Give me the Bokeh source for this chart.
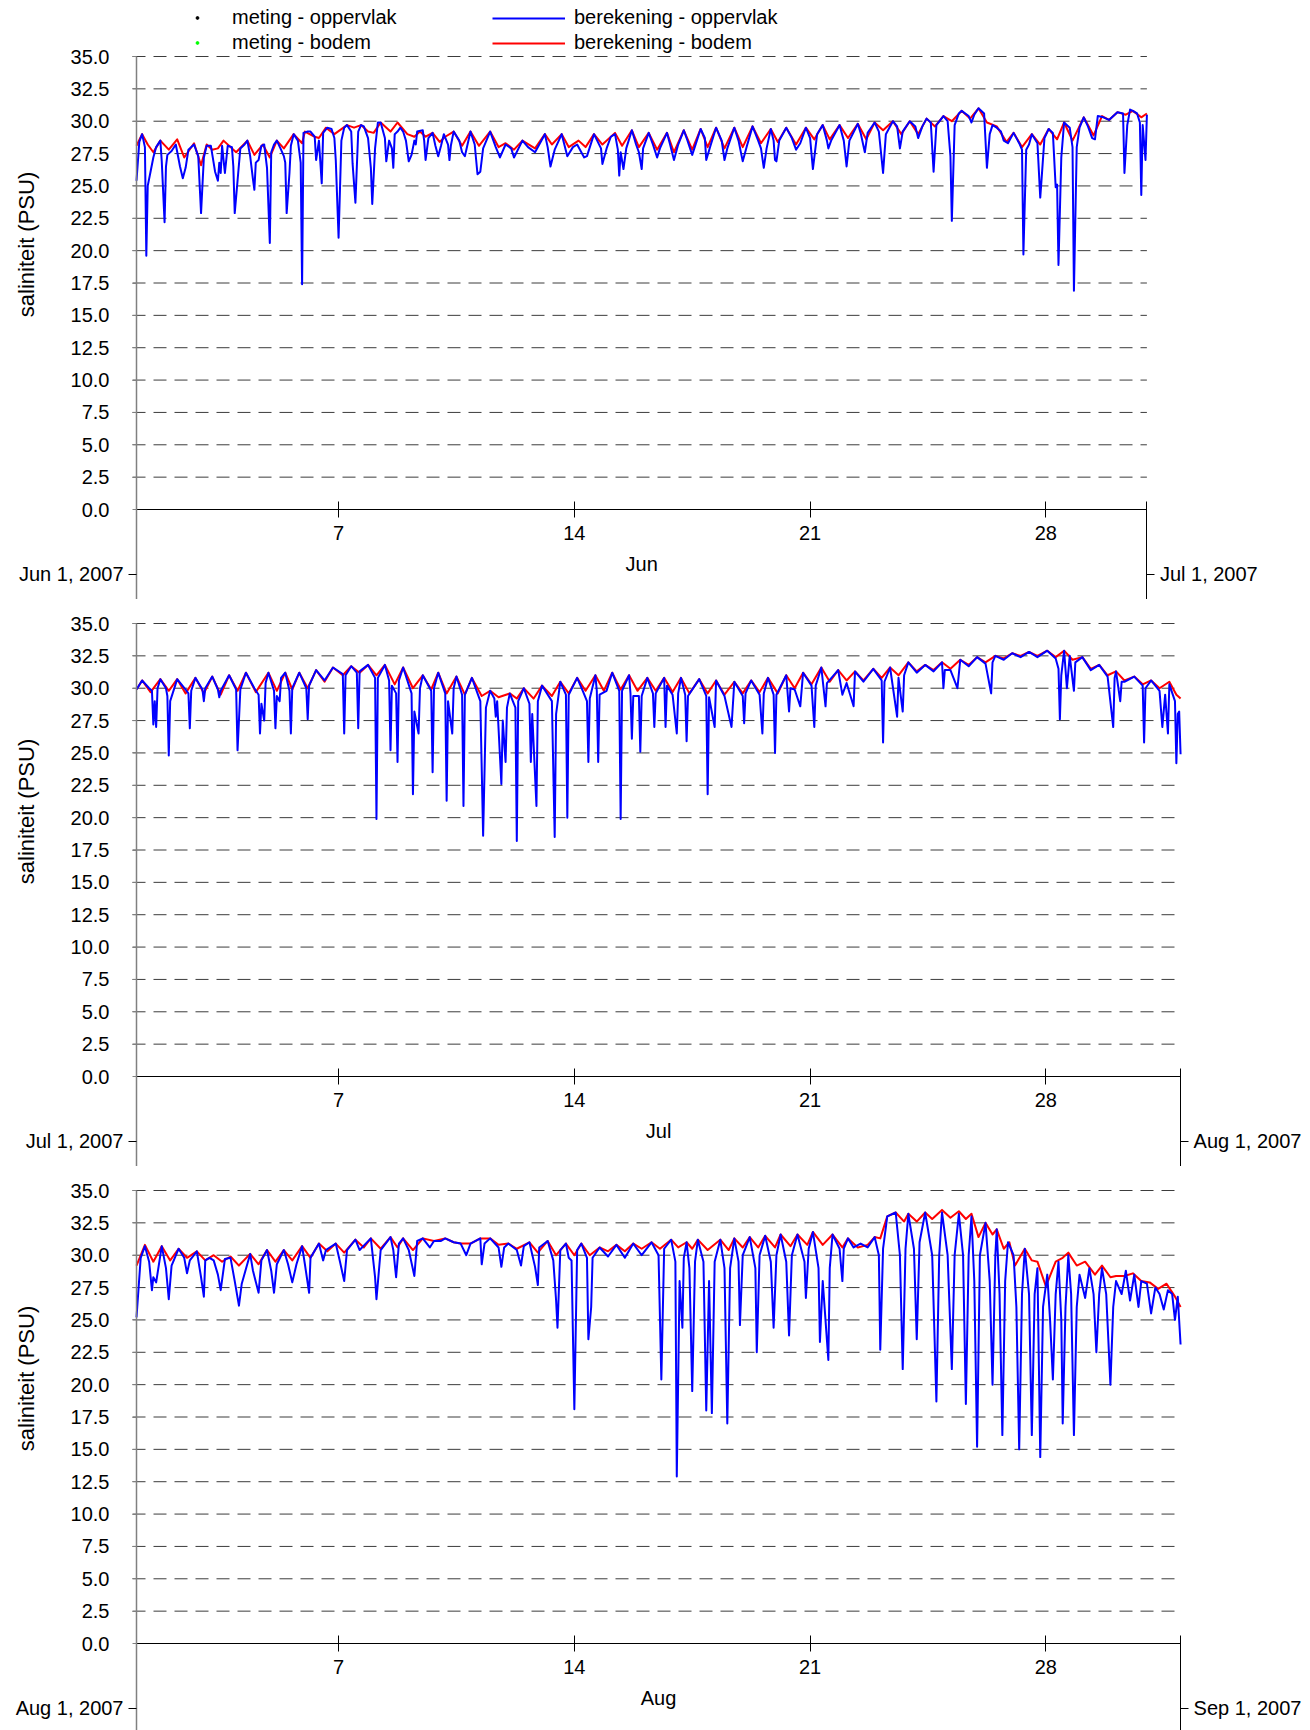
import math
from bokeh.plotting import figure
from bokeh.layouts import column
from bokeh.models import (Range1d, FixedTicker, LinearAxis, Legend, LegendItem,
                          NumeralTickFormatter)
from bokeh.core.properties import value
from bokeh.embed import file_html
from bokeh.resources import INLINE

FONT = "Liberation Sans"
FS = "20px"

# ---------------- data ----------------
months = ["Jun", "Jul", "Aug"]
month_lengths = [30, 31, 31]
start_labels = ["Jun 1, 2007", "Jul 1, 2007", "Aug 1, 2007"]
end_labels = ["Jul 1, 2007", "Aug 1, 2007", "Sep 1, 2007"]
day_ticks = [7, 14, 21, 28]
y_ticks = [0, 2.5, 5, 7.5, 10, 12.5, 15, 17.5, 20, 22.5, 25, 27.5, 30, 32.5, 35]
y_title = "saliniteit (PSU)"
legend_meting = ["meting - oppervlak", "meting - bodem"]
legend_berekening = ["berekening - oppervlak", "berekening - bodem"]

# (hours since start of month, salinity)
jun_oppervlak = [(0,25.4),(2,28.4),(4,29.0),(6,28.0),(7,19.6),(8,25.0),(10,26.1),(12,27.2),(14,28.0),(17,28.5),(18,26.9),(20,22.2),(21,26.5),(22,27.4),(25,27.7),(28,28.2),(31,26.5),(33,25.6),(35,26.4),(37,27.8),(41,28.2),(44,27.3),(46,22.9),(48,27.2),(50,28.1),(53,28.1),(56,26.1),(58,25.4),(59,26.8),(60,26.0),(61,28.1),(63,26.0),(65,28.1),(68,28.0),(69,26.5),(70,22.9),(72,25.4),(74,27.9),(77,28.2),(79,28.5),(81,27.3),(83,25.5),(84,24.7),(85,26.8),(87,27.0),(89,28.1),(91,28.2),(93,26.4),(95,20.6),(96,27.6),(98,28.2),(100,28.5),(103,27.8),(105,27.3),(106,26.8),(107,22.9),(109,26.0),(110,28.1),(112,29.0),(115,28.5),(117,26.8),(118,17.4),(119,29.1),(122,29.2),(124,29.2),(127,28.8),(128,27.0),(130,28.5),(132,25.2),(133,29.1),(136,29.5),(139,29.4),(141,28.7),(142,27.0),(144,21.0),(146,28.5),(148,29.5),(150,29.7),(153,29.2),(154,26.7),(156,23.7),(158,29.2),(160,29.7),(162,29.6),(165,28.7),(167,26.4),(168,23.6),(170,27.9),(172,29.9),(174,29.9),(177,28.7),(178,26.9),(180,28.5),(182,27.9),(183,26.4),(184,29.0),(186,29.2),(188,29.5),(190,29.2),(192,28.5),(194,26.9),(196,27.4),(198,28.5),(199,28.2),(200,29.2),(204,29.3),(205,28.5),(206,27.0),(208,28.7),(211,29.1),(213,28.1),(215,27.3),(217,28.1),(219,29.0),(222,28.2),(223,27.0),(224,28.1),(226,29.2),(230,28.5),(232,27.6),(234,27.3),(238,29.2),(241,28.2),(243,25.9),(245,26.1),(247,27.9),(252,29.2),(256,28.0),(259,27.2),(263,28.2),(267,27.9),(269,27.2),(275,28.5),(279,28.0),(284,27.6),(291,29.0),(293,28.0),(295,26.5),(298,27.8),(303,29.0),(307,27.3),(311,28.0),(314,28.2),(319,27.2),(321,27.3),(326,29.0),(331,27.9),(332,26.7),(335,27.9),(338,28.8),(341,29.0),(343,27.8),(344,25.8),(345,27.6),(347,26.3),(349,27.9),(353,29.3),(356,28.2),(358,27.6),(360,26.3),(361,27.9),(365,29.1),(368,28.2),(371,27.2),(373,27.9),(378,29.1),(380,28.3),(383,27.0),(386,28.2),(390,29.3),(392,28.7),(396,27.4),(402,29.4),(405,28.7),(406,27.0),(409,28.1),(413,29.5),(417,28.5),(419,27.0),(421,27.9),(426,29.5),(429,28.5),(432,26.9),(435,28.1),(439,29.6),(443,28.5),(445,27.9),(447,26.4),(449,27.9),(452,29.4),(454,28.5),(455,27.0),(456,26.9),(458,28.5),(463,29.5),(467,28.7),(470,27.8),(473,28.3),(477,29.5),(480,28.7),(482,26.3),(485,29.0),(489,29.7),(492,28.5),(493,27.9),(495,28.5),(501,29.7),(504,28.5),(506,26.5),(508,28.5),(514,29.8),(516,29.1),(519,27.6),(521,29.1),(526,29.9),(529,29.2),(532,26.0),(534,29.0),(539,30.0),(542,29.6),(544,27.9),(546,29.2),(551,30.0),(555,29.6),(557,28.7),(560,29.6),(563,30.2),(566,29.9),(568,26.1),(570,29.7),(575,30.4),(578,30.0),(580,27.3),(581,22.3),(583,29.7),(586,30.6),(588,30.8),(593,30.4),(595,29.9),(597,30.5),(600,31.0),(604,30.6),(606,26.4),(608,29.0),(610,29.7),(613,29.5),(616,29.2),(618,28.5),(621,28.3),(625,29.1),(629,28.3),(631,27.8),(632,19.7),(634,27.8),(636,28.2),(638,29.0),(642,28.3),(644,24.1),(645,25.6),(647,28.7),(650,29.4),(653,29.1),(655,24.9),(656,25.1),(657,18.9),(659,27.2),(661,29.9),(665,29.5),(667,28.0),(668,16.9),(670,28.0),(672,29.5),(675,30.3),(678,29.6),(681,28.7),(683,28.6),(685,30.4),(689,30.3),(693,30.1),(699,30.7),(703,30.6),(704,26.0),(706,29.7),(708,30.9),(710,30.8),(713,30.6),(715,29.9),(716,24.3),(717,29.7),(719,27.0),(720,30.5)]

jun_bodem = [(0,28.1),(4,29.0),(8,28.2),(12,27.6),(17,28.5),(23,27.8),(29,28.6),(34,27.2),(41,28.3),(46,26.6),(50,28.2),(54,27.8),(58,27.9),(62,28.5),(71,27.6),(79,28.5),(84,27.4),(90,28.2),(95,27.2),(100,28.5),(105,27.9),(112,29.0),(118,28.3),(120,29.2),(127,28.8),(130,28.7),(135,29.5),(141,29.0),(150,29.7),(155,29.5),(160,29.7),(165,29.2),(169,29.1),(174,29.9),(181,29.2),(186,29.9),(193,29.0),(198,28.8),(202,29.2),(206,28.8),(211,29.1),(216,28.4),(220,28.8),(226,29.2),(232,28.1),(238,29.2),(244,28.1),(252,29.2),(258,28.0),(263,28.3),(269,27.8),(275,28.5),(284,27.9),(291,29.0),(296,28.2),(303,29.0),(308,28.0),(315,28.5),(320,28.0),(326,29.0),(332,28.2),(341,29.1),(346,28.1),(353,29.3),(358,28.0),(365,29.1),(371,27.8),(378,29.1),(383,27.6),(390,29.3),(396,27.8),(402,29.4),(407,28.0),(413,29.5),(419,27.9),(426,29.5),(432,28.0),(439,29.6),(445,28.3),(452,29.4),(457,28.4),(463,29.5),(470,28.2),(477,29.5),(483,28.6),(489,29.7),(494,28.6),(501,29.7),(507,28.7),(514,29.8),(520,28.6),(526,29.9),(532,29.3),(539,30.0),(545,29.0),(551,30.0),(557,29.0),(563,30.2),(569,29.6),(575,30.4),(581,30.0),(588,30.8),(594,30.2),(600,31.0),(606,29.9),(613,29.6),(620,28.4),(625,29.1),(631,28.0),(638,29.0),(644,28.2),(650,29.4),(656,28.6),(661,29.9),(667,28.5),(675,30.3),(682,28.9),(688,30.4),(693,30.1),(699,30.7),(705,30.5),(710,30.8),(716,30.3),(720,30.6)]

jul_oppervlak = [(0,29.9),(4,30.6),(9,30.0),(11,29.8),(12,27.2),(13,29.0),(14,27.0),(15,30.0),(17,30.7),(21,30.0),(22,29.4),(23,24.8),(24,29.0),(29,30.7),(35,29.9),(37,29.6),(38,26.9),(39,29.8),(42,30.8),(47,29.9),(48,29.0),(49,30.0),(54,30.9),(58,29.9),(59,29.3),(60,29.8),(66,31.0),(71,29.9),(72,25.2),(73,27.5),(74,29.9),(78,31.2),(84,30.0),(87,29.5),(88,26.5),(89,28.8),(91,27.5),(92,30.4),(94,31.2),(98,29.8),(99,26.9),(100,29.4),(102,29.0),(103,30.8),(106,31.2),(109,29.8),(110,26.5),(111,30.0),(116,31.2),(121,30.0),(122,27.6),(123,30.2),(128,31.4),(134,30.6),(140,31.6),(147,31.1),(148,26.5),(149,31.0),(153,31.7),(157,31.2),(158,26.9),(159,31.3),(165,31.8),(170,30.8),(171,19.9),(172,30.8),(177,31.8),(180,30.6),(181,25.2),(182,30.2),(185,29.6),(186,24.3),(187,30.6),(190,31.6),(196,29.6),(197,21.8),(198,28.2),(201,26.5),(202,30.0),(204,31.0),(210,29.8),(211,23.5),(212,30.0),(215,31.2),(220,29.6),(221,21.3),(222,29.0),(225,26.5),(226,30.0),(228,30.9),(232,29.5),(233,20.9),(234,29.5),(239,30.8),(245,29.0),(247,18.6),(249,28.5),(252,29.8),(255,29.2),(256,27.8),(257,29.0),(260,22.6),(261,27.5),(263,24.3),(264,28.5),(266,29.6),(270,28.5),(271,18.2),(272,29.0),(276,30.0),(280,28.8),(281,24.3),(282,28.0),(285,20.9),(286,29.0),(289,30.2),(296,29.0),(298,18.5),(299,28.0),(302,30.5),(306,29.5),(307,20.0),(308,29.5),(314,30.8),(318,29.8),(321,29.0),(322,24.3),(323,29.2),(327,31.0),(328,29.8),(329,24.3),(330,29.5),(335,29.8),(339,31.2),(344,29.8),(345,19.9),(346,29.8),(351,31.0),(352,29.6),(353,26.1),(354,29.4),(358,29.4),(359,25.1),(360,29.4),(364,30.8),(368,29.6),(369,27.0),(370,29.6),(376,30.8),(377,27.0),(378,30.2),(382,29.5),(385,26.5),(386,29.6),(388,30.8),(391,29.5),(392,25.9),(393,29.4),(401,30.7),(406,29.4),(407,21.8),(408,29.3),(412,27.0),(413,30.6),(419,29.4),(424,27.0),(426,30.5),(432,29.4),(433,27.3),(434,29.6),(438,30.6),(444,29.5),(446,26.5),(447,29.6),(450,30.8),(454,29.5),(455,25.0),(456,29.5),(463,31.0),(465,28.2),(466,30.0),(469,29.9),(473,28.6),(475,31.2),(481,30.2),(483,27.0),(484,30.2),(488,31.6),(491,28.6),(492,30.4),(500,31.4),(503,29.5),(506,30.4),(511,28.6),(512,31.3),(518,30.5),(525,31.5),(531,30.6),(532,25.8),(533,30.5),(537,31.6),(542,27.8),(543,30.8),(546,28.2),(547,31.0),(550,32.0),(556,31.2),(562,31.8),(568,31.3),(574,32.0),(575,30.0),(576,31.4),(580,31.4),(585,30.0),(587,32.2),(593,31.7),(599,32.4),(605,31.9),(609,29.6),(610,32.0),(612,32.5),(618,32.2),(624,32.7),(630,32.4),(636,32.8),(642,32.4),(649,32.9),(655,32.3),(657,31.5),(658,27.6),(659,31.0),(661,32.9),(663,30.0),(665,32.5),(668,29.8),(669,32.0),(674,32.4),(680,31.4),(686,31.8),(692,30.9),(696,27.0),(697,30.8),(698,31.3),(701,29.0),(702,30.5),(704,30.5),(711,30.9),(717,30.2),(718,25.8),(719,30.0),(723,30.6),(729,29.8),(731,27.0),(733,29.5),(735,26.5),(736,30.3),(740,29.0),(741,24.2),(742,28.0),(743,28.2),(744,24.9)]

jul_bodem = [(0,29.9),(4,30.6),(10,29.7),(17,30.7),(23,29.8),(29,30.7),(35,29.6),(42,30.8),(48,29.6),(54,30.9),(60,29.5),(66,31.0),(72,29.8),(78,31.2),(85,29.7),(94,31.2),(100,29.8),(106,31.2),(111,29.9),(116,31.2),(122,30.0),(128,31.4),(134,30.5),(140,31.6),(147,31.0),(153,31.7),(159,31.2),(165,31.8),(171,31.0),(177,31.8),(184,30.3),(190,31.6),(197,30.0),(204,31.0),(210,29.9),(215,31.2),(221,29.6),(228,30.9),(234,29.5),(239,30.8),(246,29.4),(252,29.8),(258,29.3),(266,29.6),(271,29.2),(276,30.0),(283,29.2),(289,30.2),(296,29.4),(302,30.5),(308,29.6),(314,30.8),(320,29.8),(327,31.0),(333,29.8),(339,31.2),(345,29.9),(351,31.0),(357,29.8),(364,30.8),(370,29.8),(376,30.8),(382,29.7),(388,30.8),(394,29.6),(401,30.7),(407,29.6),(413,30.6),(419,29.5),(426,30.5),(432,29.6),(438,30.6),(444,29.7),(450,30.8),(457,29.6),(463,31.0),(469,30.0),(475,31.2),(481,30.3),(488,31.6),(494,30.5),(500,31.4),(506,30.6),(512,31.3),(518,30.6),(525,31.5),(531,30.8),(537,31.6),(543,31.0),(550,32.0),(556,31.3),(562,31.8),(568,31.4),(574,32.0),(580,31.5),(587,32.2),(593,31.8),(599,32.4),(605,32.0),(612,32.5),(618,32.3),(624,32.7),(630,32.5),(636,32.8),(642,32.5),(649,32.9),(655,32.4),(661,32.9),(667,32.2),(674,32.4),(680,31.5),(686,31.8),(692,31.0),(698,31.3),(704,30.6),(711,30.9),(717,30.3),(723,30.6),(729,30.0),(736,30.5),(741,29.5),(744,29.2)]

aug_oppervlak = [(0,25.2),(3,29.8),(6,30.7),(9,29.5),(11,27.3),(12,28.3),(14,27.9),(18,30.7),(21,29.0),(23,26.6),(25,29.2),(30,30.5),(34,29.8),(36,28.6),(38,29.6),(43,30.3),(46,28.3),(48,26.8),(49,29.6),(52,29.8),(55,29.6),(58,28.5),(60,27.3),(63,29.7),(67,29.8),(70,28.0),(73,26.1),(75,27.8),(81,30.1),(83,28.8),(87,27.1),(89,29.6),(93,30.4),(96,28.8),(98,27.1),(100,29.3),(105,30.4),(108,29.3),(111,27.9),(114,29.3),(118,30.7),(120,29.3),(123,27.1),(124,29.8),(130,30.9),(133,29.6),(135,30.4),(142,30.9),(145,29.5),(148,28.0),(150,30.4),(156,31.2),(159,30.4),(167,31.3),(170,28.3),(171,26.6),(174,30.4),(181,31.4),(183,30.4),(185,28.3),(187,30.9),(190,31.3),(194,30.4),(198,28.4),(200,31.1),(204,31.3),(209,30.6),(212,31.1),(217,31.1),(220,31.3),(226,31.0),(231,30.9),(235,30.0),(238,30.9),(245,31.3),(246,29.3),(248,30.9),(252,31.3),(258,30.6),(260,29.1),(262,30.6),(265,30.9),(271,30.4),(274,29.2),(276,30.7),(280,31.0),(284,29.1),(286,27.7),(287,30.6),(293,31.1),(297,29.6),(299,26.5),(300,24.4),(302,30.4),(306,30.9),(308,29.8),(310,29.6),(312,18.1),(314,30.4),(317,30.9),(321,29.8),(322,23.5),(324,26.0),(325,29.8),(330,30.6),(336,29.9),(342,30.8),(348,29.8),(354,30.9),(360,30.0),(367,31.0),(372,30.0),(374,20.4),(376,30.5),(381,31.2),(384,29.5),(385,12.9),(387,28.0),(389,24.4),(390,29.8),(392,31.0),(394,29.0),(396,19.5),(398,29.5),(400,31.2),(404,29.5),(406,18.0),(408,28.0),(410,17.8),(412,29.5),(416,31.2),(419,29.0),(421,17.0),(423,29.0),(426,31.3),(429,29.5),(430,24.6),(432,30.0),(437,31.4),(441,29.0),(442,22.5),(444,30.0),(448,31.5),(452,29.5),(454,24.4),(456,30.0),(459,31.6),(463,29.5),(465,23.8),(467,30.0),(471,31.6),(476,29.5),(477,26.7),(479,30.5),(482,31.8),(486,29.0),(487,23.3),(489,28.0),(493,21.9),(494,29.0),(496,31.6),(501,30.5),(503,28.0),(504,30.5),(507,31.3),(511,30.6),(516,30.9),(521,30.6),(526,31.4),(529,30.0),(530,22.7),(532,30.5),(535,33.0),(541,33.3),(544,30.0),(546,21.2),(548,30.5),(550,33.2),(554,30.5),(556,23.5),(558,31.0),(562,33.3),(567,30.0),(570,18.7),(572,30.0),(574,33.3),(578,30.0),(581,21.2),(583,30.0),(586,33.2),(589,30.0),(591,18.5),(593,30.0),(595,33.0),(597,28.0),(599,15.2),(601,30.0),(605,32.5),(608,28.0),(610,20.0),(612,30.0),(613,32.0),(615,27.0),(617,16.1),(619,28.0),(621,31.0),(625,30.0),(627,26.0),(629,15.0),(631,27.0),(633,30.5),(636,27.0),(638,16.1),(640,27.0),(642,29.0),(644,14.4),(646,26.0),(649,28.5),(651,25.0),(653,20.4),(655,27.0),(657,29.5),(659,25.0),(660,17.0),(662,26.0),(664,30.0),(666,27.0),(668,16.1),(670,26.0),(672,28.5),(676,26.7),(679,29.0),(682,27.0),(684,22.5),(686,27.0),(688,29.0),(691,27.0),(694,20.0),(696,26.0),(698,28.0),(702,27.0),(705,28.8),(708,26.5),(711,28.5),(714,26.0),(716,28.0),(720,27.8),(723,25.5),(726,27.5),(729,27.0),(732,25.8),(735,27.3),(738,27.0),(740,25.0),(742,26.8),(744,23.1)]

aug_bodem = [(0,29.2),(6,30.8),(12,29.5),(18,30.7),(24,29.6),(30,30.5),(36,29.8),(43,30.3),(49,29.6),(55,30.0),(61,29.5),(67,29.9),(73,29.2),(81,30.1),(87,29.3),(93,30.4),(99,29.5),(105,30.4),(111,29.6),(118,30.7),(124,29.8),(130,30.9),(136,30.3),(142,30.9),(148,30.2),(156,31.2),(162,30.6),(167,31.3),(174,30.5),(181,31.4),(186,30.6),(190,31.3),(197,30.4),(204,31.3),(212,31.1),(220,31.3),(226,31.0),(231,30.9),(238,30.9),(245,31.3),(252,31.3),(258,30.8),(265,30.9),(271,30.5),(280,31.0),(286,30.2),(293,31.1),(299,30.0),(306,30.9),(312,30.0),(317,30.9),(323,30.0),(330,30.6),(336,30.3),(342,30.8),(348,30.3),(354,30.9),(360,30.5),(367,31.0),(373,30.5),(381,31.2),(386,30.6),(392,31.0),(396,30.5),(400,31.2),(407,30.4),(416,31.2),(422,30.4),(426,31.3),(432,30.6),(437,31.4),(443,30.6),(448,31.5),(455,30.6),(459,31.6),(466,30.7),(471,31.6),(478,30.8),(482,31.8),(489,30.8),(496,31.6),(503,30.6),(507,31.3),(514,30.6),(521,30.8),(526,31.4),(530,31.3),(535,33.0),(541,33.3),(547,32.6),(550,33.2),(556,32.6),(562,33.3),(567,32.8),(574,33.5),(580,32.9),(586,33.4),(591,32.8),(595,33.2),(600,31.4),(605,32.5),(610,31.6),(613,32.0),(618,30.5),(622,31.0),(626,29.2),(633,30.5),(638,29.6),(642,29.5),(648,27.6),(655,29.5),(660,29.8),(664,30.2),(670,29.2),(676,29.5),(683,28.5),(688,29.2),(694,28.3),(698,28.4),(704,28.4),(710,28.6),(716,28.0),(722,27.9),(728,27.4),(734,27.8),(740,26.8),(744,26.0)]

oppervlak_series = [jun_oppervlak, jul_oppervlak, aug_oppervlak]
bodem_series = [jun_bodem, jul_bodem, aug_bodem]

# ---------------- layout constants (pixels) ----------------
PAGE_W = 1310
PX_PER_DAY = 33.68
PX_PER_UNIT = 453 / 35.0          # 35.0 line to 0.0 line = 453 px
AXIS_X_PX = 136                   # page x of the y axis
FIG_H = [599, 567, 564]           # figure heights
TOP_PX = [56, 24, 24]             # from figure top to the 35.0 line
DATE_LEVEL = -5                   # value level of the date labels


def units(px):
    return px / PX_PER_UNIT


def days(px):
    return px / PX_PER_DAY


figs = []
for i in range(3):
    x_start = 1 - days(AXIS_X_PX)
    x_end = x_start + days(PAGE_W)
    x_last = 1 + month_lengths[i]
    y_top = 35 + units(TOP_PX[i])
    y_bot = 35 - units(FIG_H[i] - TOP_PX[i])

    p = figure(width=PAGE_W, height=FIG_H[i], title=None,
               x_range=Range1d(x_start, x_end), y_range=Range1d(y_bot, y_top),
               output_backend="svg", toolbar_location=None,
               x_axis_location=None, y_axis_location=None,
               min_border=0, outline_line_color=None)
    for g in list(p.grid):
        g.visible = False

    # dashed horizontal grid lines from the value axis to the month end
    gy = y_ticks[1:]
    p.segment(x0=[1 - days(4)] * len(gy), y0=gy, x1=[x_last] * len(gy), y1=gy,
              line_color="#3c3c3c", line_dash="13 8", line_width=1)

    lbl = dict(major_label_text_font=FONT, major_label_text_font_size=FS,
               major_label_text_color="black", minor_tick_line_color=None)

    # left value axis
    yax = LinearAxis(fixed_location=1, ticker=FixedTicker(ticks=y_ticks),
                     formatter=NumeralTickFormatter(format="0.0"),
                     bounds=(y_bot, 35), axis_line_color="#808080", axis_line_width=1.5,
                     major_tick_line_color="#808080", major_tick_out=4, major_tick_in=0,
                     major_label_standoff=23, **lbl)
    p.add_layout(yax, "left")
    # left date tick
    dax = LinearAxis(fixed_location=1, ticker=FixedTicker(ticks=[DATE_LEVEL]),
                     major_label_overrides={DATE_LEVEL: start_labels[i]},
                     axis_line_color=None, major_tick_line_color="black",
                     major_tick_out=8, major_tick_in=0, major_label_standoff=5, **lbl)
    p.add_layout(dax, "left")
    # right date tick
    rax = LinearAxis(fixed_location=x_last, ticker=FixedTicker(ticks=[DATE_LEVEL]),
                     major_label_overrides={DATE_LEVEL: end_labels[i]},
                     bounds=(y_bot, units(8)), axis_line_color="black",
                     major_tick_line_color="black",
                     major_tick_out=8, major_tick_in=0, major_label_standoff=5, **lbl)
    p.add_layout(rax, "right")
    # day axis along 0.0
    xax = LinearAxis(fixed_location=0, ticker=FixedTicker(ticks=day_ticks),
                     bounds=(1, x_last), axis_line_color="black",
                     major_tick_line_color="black", major_tick_out=8, major_tick_in=8,
                     major_label_standoff=8, **lbl)
    p.add_layout(xax, "below")

    # month name and y title
    p.text(x=[1 + month_lengths[i] / 2], y=[-units(54)], text=[months[i]],
           text_align="center", text_baseline="middle",
           text_font=value(FONT), text_font_size=value(FS), text_color="black")
    p.text(x=[1 - days(AXIS_X_PX - 26)], y=[35 - units(244 - 56)], text=[y_title],
           angle=math.pi / 2, text_align="center", text_baseline="middle",
           text_font=value(FONT), text_font_size=value("22px"), text_color="black")

    # series
    hb, vb = zip(*bodem_series[i])
    ho, vo = zip(*oppervlak_series[i])
    r_bod = p.line(x=[1 + h / 24 for h in hb], y=list(vb),
                   line_color="#FF0000", line_width=2, line_join="round")
    r_opp = p.line(x=[1 + h / 24 for h in ho], y=list(vo),
                   line_color="#0000FF", line_width=2, line_join="round")

    if i == 0:
        # measurement series: no values in this period, legend entries only
        r_m1 = p.scatter(x=[float("nan")], y=[float("nan")], marker="circle",
                         size=3, color="black")
        r_m2 = p.scatter(x=[float("nan")], y=[float("nan")], marker="circle",
                         size=3, color="#00FF00")
        common = dict(orientation="vertical", label_height=22,
                      spacing=2, padding=0, margin=0, border_line_color=None,
                      background_fill_alpha=0, label_text_font=FONT,
                      label_text_font_size=FS, label_text_color="black")
        leg_y = FIG_H[i] - 54
        legA = Legend(items=[LegendItem(label=legend_meting[0], renderers=[r_m1]),
                             LegendItem(label=legend_meting[1], renderers=[r_m2])],
                      location=(162, leg_y), glyph_width=70, glyph_height=7,
                      label_standoff=0, **common)
        legB = Legend(items=[LegendItem(label=legend_berekening[0], renderers=[r_opp]),
                             LegendItem(label=legend_berekening[1], renderers=[r_bod])],
                      location=(492, leg_y), glyph_width=73, glyph_height=22,
                      label_standoff=9, **common)
        p.add_layout(legA)
        p.add_layout(legB)
    figs.append(p)

layout = column(*figs, spacing=0)
open("out.html", "w").write(file_html(layout, INLINE))
